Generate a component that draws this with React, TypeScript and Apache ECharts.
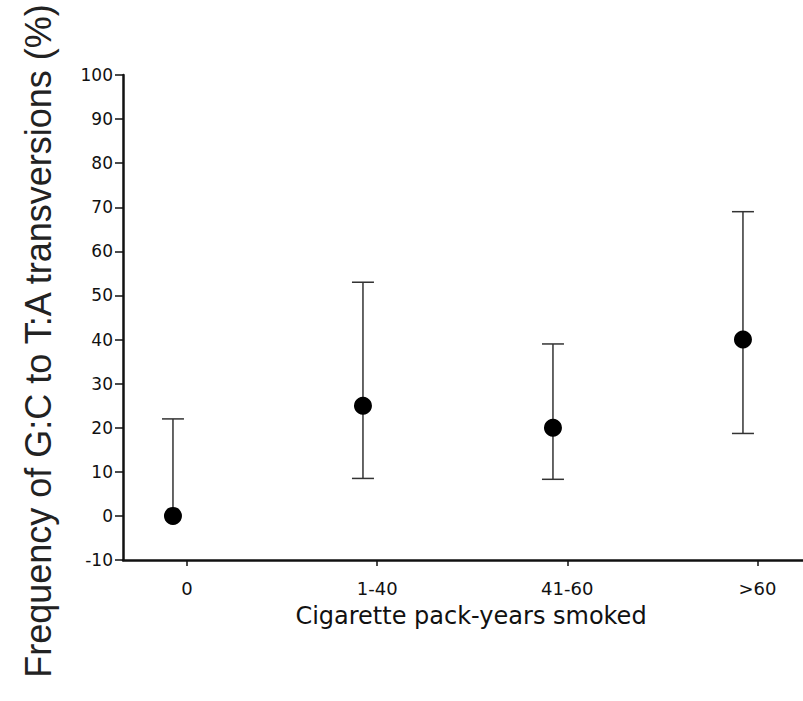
import React, { useEffect, useRef } from "react";
import * as echarts from "echarts";

const categories = ["0", "1-40", "41-60", ">60"];
const categoryPositions = [0, 1, 2, 3];
const means = [0, 25, 20, 40];
const lower = [0, 8.5, 8.3, 18.7];
const upper = [22, 53, 39, 69];
const yTicks = { min: -10, max: 100, interval: 10 };

export default function App() {
  const ref = useRef<HTMLDivElement>(null);
  useEffect(() => {
    if (!ref.current) return;
    const chart = echarts.init(ref.current, undefined, { renderer: "svg" });
    const font = "Liberation Sans, Arial, sans-serif";
    const scanFont = "DejaVu Sans, sans-serif";
    const pointData = means.map((m, i) => [categoryPositions[i], m]);
    const errData = means.map((m, i) => [categoryPositions[i], lower[i], upper[i], m]);
    chart.setOption({
      animation: false,
      backgroundColor: "#ffffff",
      grid: { left: 123, right: 0, top: 75, bottom: 141, containLabel: false },
      xAxis: [
        {
          type: "value",
          min: -0.337,
          max: 3.24,
          position: "bottom",
          axisLine: { show: true, onZero: false, lineStyle: { color: "#111", width: 2.5 } },
          axisTick: {
            show: true,
            length: 6,
            customValues: categoryPositions,
            lineStyle: { color: "#111", width: 1.5 },
          },
          axisLabel: {
            color: "#111",
            fontFamily: scanFont,
            fontSize: 18,
            margin: 19,
            customValues: categoryPositions,
            formatter: (v: number) => {
              const i = Math.round(v);
              return i >= 0 && i < categories.length ? categories[i] : "";
            },
          },
          splitLine: { show: false },
          name: "Cigarette pack-years smoked",
          nameLocation: "middle",
          nameGap: 44,
          nameTextStyle: { color: "#111", fontFamily: scanFont, fontSize: 24, padding: [0, 0, 0, 16] },
        },
        {
          type: "value",
          min: -0.263,
          max: 3.316,
          show: false,
        },
      ],
      yAxis: {
        type: "value",
        min: yTicks.min,
        max: yTicks.max,
        interval: yTicks.interval,
        axisLine: { show: true, onZero: false, lineStyle: { color: "#111", width: 2.5 } },
        axisTick: { show: true, length: 8, lineStyle: { color: "#111", width: 1.5 } },
        axisLabel: { color: "#111", fontFamily: scanFont, fontSize: 17, margin: 10 },
        splitLine: { show: false },
      },
      graphic: [
        {
          type: "text",
          x: 38,
          y: 341,
          rotation: Math.PI / 2,
          style: {
            text: "Frequency of G:C to T:A transversions (%)",
            fontFamily: font,
            fontSize: 36,
            fill: "#222",
            textAlign: "center",
            textVerticalAlign: "middle",
          },
        },
      ],
      series: [
        {
          type: "custom",
          xAxisIndex: 1,
          data: errData,
          renderItem: (params: any, api: any) => {
            const x = api.value(0);
            const loV = api.value(1);
            const lo = api.coord([x, loV]);
            const hi = api.coord([x, api.value(2)]);
            const w = 11;
            const style = { stroke: "#333", lineWidth: 1.5 };
            const children: any[] = [
              { type: "line", shape: { x1: hi[0], y1: hi[1], x2: lo[0], y2: lo[1] }, style },
              { type: "line", shape: { x1: hi[0] - w, y1: hi[1], x2: hi[0] + w, y2: hi[1] }, style },
            ];
            if (loV < api.value(3)) {
              children.push({ type: "line", shape: { x1: lo[0] - w, y1: lo[1], x2: lo[0] + w, y2: lo[1] }, style });
            }
            return { type: "group", children };
          },
        },
        {
          type: "scatter",
          xAxisIndex: 1,
          data: pointData,
          symbol: "circle",
          symbolSize: 18,
          itemStyle: { color: "#000", opacity: 1 },
          z: 5,
        },
      ],
    });
    return () => chart.dispose();
  }, []);
  return (
    <div
      ref={ref}
      style={{ position: "fixed", left: 0, top: 0, width: 803, height: 701 }}
    />
  );
}
